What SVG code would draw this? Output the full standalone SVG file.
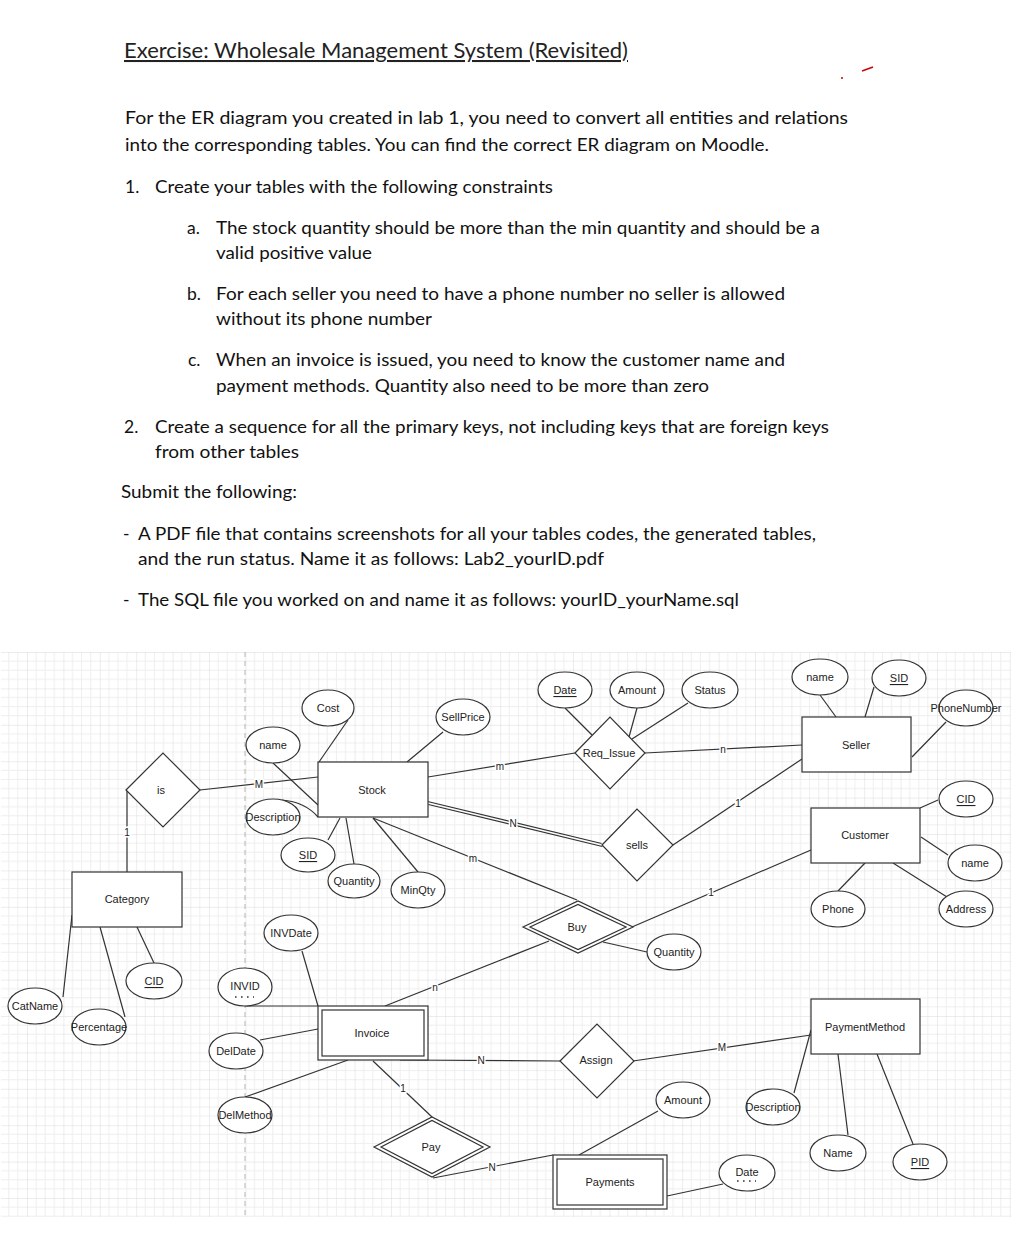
<svg xmlns="http://www.w3.org/2000/svg" width="1028" height="1248" viewBox="0 0 1028 1248">
<defs>
<pattern id="grid" patternUnits="userSpaceOnUse" x="27" y="652" width="36.4" height="36.4">
<path d="M9.1 0V36.4M18.2 0V36.4M27.3 0V36.4M0 9.1H36.4M0 18.2H36.4M0 27.3H36.4" stroke="#eeeeee" stroke-width="1" fill="none"/>
<path d="M0 0V36.4M0 0H36.4" stroke="#dadada" stroke-width="1" fill="none"/>
</pattern>
<style>
.doc{font-family:Lato,"Liberation Sans",sans-serif;font-size:17.5px;fill:#111}
.ttl{font-family:Lato,"Liberation Sans",sans-serif;font-size:20.5px;fill:#222;text-decoration:underline}
.lb{font-family:"Liberation Sans",Arial,sans-serif;font-size:11px;fill:#222;text-anchor:middle;dominant-baseline:central}
.u{text-decoration:underline}
.sh{fill:#fff;stroke:#333;stroke-width:1.2}
.ln{stroke:#333;stroke-width:1.2;fill:none}
.el{font-family:"Liberation Sans",Arial,sans-serif;font-size:10px;fill:#222;text-anchor:middle;dominant-baseline:central;stroke:#fff;stroke-width:3;paint-order:stroke}
.dots{stroke:#333;stroke-width:1.6;stroke-dasharray:1.6 4.4}
</style>
</defs>
<rect width="1028" height="1248" fill="#fff"/>
<g id="document-text">
<text class="ttl" x="124" y="58" textLength="504" lengthAdjust="spacingAndGlyphs">Exercise: Wholesale Management System (Revisited)</text>
<text class="doc" x="125" y="124" textLength="723" lengthAdjust="spacingAndGlyphs">For the ER diagram you created in lab 1, you need to convert all entities and relations</text>
<text class="doc" x="125" y="151" textLength="644" lengthAdjust="spacingAndGlyphs">into the corresponding tables. You can find the correct ER diagram on Moodle.</text>
<text class="doc" x="125" y="193">1.</text>
<text class="doc" x="155" y="193" textLength="398" lengthAdjust="spacingAndGlyphs">Create your tables with the following constraints</text>
<text class="doc" x="187" y="234">a.</text>
<text class="doc" x="216" y="234" textLength="604" lengthAdjust="spacingAndGlyphs">The stock quantity should be more than the min quantity and should be a</text>
<text class="doc" x="216" y="259" textLength="156" lengthAdjust="spacingAndGlyphs">valid positive value</text>
<text class="doc" x="187" y="300">b.</text>
<text class="doc" x="216" y="300" textLength="569" lengthAdjust="spacingAndGlyphs">For each seller you need to have a phone number no seller is allowed</text>
<text class="doc" x="216" y="325" textLength="216" lengthAdjust="spacingAndGlyphs">without its phone number</text>
<text class="doc" x="188" y="366">c.</text>
<text class="doc" x="216" y="366" textLength="569" lengthAdjust="spacingAndGlyphs">When an invoice is issued, you need to know the customer name and</text>
<text class="doc" x="216" y="392" textLength="493" lengthAdjust="spacingAndGlyphs">payment methods. Quantity also need to be more than zero</text>
<text class="doc" x="124" y="433">2.</text>
<text class="doc" x="155" y="433" textLength="674" lengthAdjust="spacingAndGlyphs">Create a sequence for all the primary keys, not including keys that are foreign keys</text>
<text class="doc" x="155" y="458" textLength="144" lengthAdjust="spacingAndGlyphs">from other tables</text>
<text class="doc" x="121" y="498" textLength="176" lengthAdjust="spacingAndGlyphs">Submit the following:</text>
<text class="doc" x="123" y="540">-</text>
<text class="doc" x="138" y="540" textLength="678" lengthAdjust="spacingAndGlyphs">A PDF file that contains screenshots for all your tables codes, the generated tables,</text>
<text class="doc" x="138" y="565" textLength="466" lengthAdjust="spacingAndGlyphs">and the run status. Name it as follows: Lab2_yourID.pdf</text>
<text class="doc" x="123" y="606">-</text>
<text class="doc" x="138" y="606" textLength="601" lengthAdjust="spacingAndGlyphs">The SQL file you worked on and name it as follows: yourID_yourName.sql</text>
<circle cx="842" cy="78" r="1" fill="#c00"/>
<path d="M862 71L873 67" stroke="#c00" stroke-width="1.6"/>
</g>
<g id="canvas">
<rect x="1" y="652" width="1010" height="565" fill="url(#grid)"/>
<line x1="245" y1="652" x2="245" y2="1217" stroke="#b5b5b5" stroke-width="1" stroke-dasharray="5 4"/>
</g>
<g id="connectors">
<line class="ln" x1="200" y1="790" x2="318" y2="777"/>
<line class="ln" x1="127" y1="790" x2="127" y2="872"/>
<line class="ln" x1="428" y1="777" x2="575" y2="753"/>
<line class="ln" x1="645" y1="753" x2="802" y2="745"/>
<line class="ln" x1="427.6" y1="801.5" x2="601.6" y2="843.5"/>
<line class="ln" x1="428.4" y1="804.5" x2="602.4" y2="846.5"/>
<line class="ln" x1="673" y1="845" x2="802" y2="759"/>
<line class="ln" x1="373" y1="818" x2="577" y2="900"/>
<line class="ln" x1="632" y1="927" x2="811" y2="850"/>
<line class="ln" x1="549" y1="941" x2="385" y2="1006" stroke-width="2.2"/>
<line class="ln" x1="400" y1="1060" x2="560" y2="1061"/>
<line class="ln" x1="633" y1="1061" x2="811" y2="1035"/>
<line class="ln" x1="373" y1="1061" x2="432" y2="1117"/>
<line class="ln" x1="433" y1="1178" x2="553" y2="1155"/>
<line class="ln" x1="348" y1="720" x2="319" y2="762"/>
<line class="ln" x1="273" y1="763" x2="318" y2="805"/>
<path class="ln" d="M282 800Q305 802 318 817"/>
<line class="ln" x1="328" y1="840" x2="340" y2="818"/>
<line class="ln" x1="354" y1="864" x2="346" y2="818"/>
<line class="ln" x1="418" y1="872" x2="373" y2="818"/>
<line class="ln" x1="443" y1="732" x2="407" y2="762"/>
<line class="ln" x1="565" y1="708" x2="592" y2="735"/>
<line class="ln" x1="637" y1="708" x2="629" y2="737"/>
<line class="ln" x1="688" y1="703" x2="632" y2="739"/>
<line class="ln" x1="820" y1="695" x2="836" y2="717"/>
<line class="ln" x1="874" y1="687" x2="865" y2="717"/>
<line class="ln" x1="946" y1="722" x2="912" y2="757"/>
<line class="ln" x1="938" y1="800" x2="920" y2="808"/>
<line class="ln" x1="948" y1="855" x2="921" y2="837"/>
<line class="ln" x1="838" y1="891" x2="865" y2="863"/>
<line class="ln" x1="947" y1="897" x2="893" y2="863"/>
<line class="ln" x1="603" y1="942" x2="647" y2="952"/>
<line class="ln" x1="72" y1="915" x2="63" y2="997"/>
<line class="ln" x1="100" y1="927" x2="125" y2="1017"/>
<line class="ln" x1="137" y1="927" x2="154" y2="963"/>
<line class="ln" x1="302" y1="951" x2="318" y2="1006"/>
<line class="ln" x1="245" y1="1006" x2="318" y2="1006"/>
<line class="ln" x1="260" y1="1040" x2="318" y2="1029"/>
<line class="ln" x1="245" y1="1097" x2="348" y2="1060"/>
<line class="ln" x1="658" y1="1111" x2="579" y2="1155"/>
<line class="ln" x1="723" y1="1184" x2="667" y2="1196"/>
<line class="ln" x1="794" y1="1093" x2="811" y2="1030"/>
<line class="ln" x1="848" y1="1135" x2="838" y2="1054"/>
<line class="ln" x1="913" y1="1144" x2="877" y2="1054"/>
<text class="el" x="259" y="784">M</text>
<text class="el" x="127" y="832">1</text>
<text class="el" x="500" y="766">m</text>
<text class="el" x="723" y="749">n</text>
<text class="el" x="513" y="823">N</text>
<text class="el" x="738" y="803">1</text>
<text class="el" x="473" y="858">m</text>
<text class="el" x="711" y="892">1</text>
<text class="el" x="435" y="987">n</text>
<text class="el" x="481" y="1060">N</text>
<text class="el" x="722" y="1047">M</text>
<text class="el" x="403" y="1088">1</text>
<text class="el" x="492" y="1167">N</text>
</g>
<g id="node-category"><rect class="sh" x="72" y="872" width="110" height="55"/><text class="lb" x="127" y="899">Category</text></g>
<g id="node-stock"><rect class="sh" x="318" y="762" width="110" height="55"/><text class="lb" x="372" y="790">Stock</text></g>
<g id="node-seller"><rect class="sh" x="802" y="717" width="109" height="55"/><text class="lb" x="856" y="745">Seller</text></g>
<g id="node-customer"><rect class="sh" x="811" y="808" width="109" height="55"/><text class="lb" x="865" y="835">Customer</text></g>
<g id="node-invoice"><rect class="sh" x="318" y="1006" width="110" height="54"/><rect class="sh" x="322" y="1010" width="102" height="46"/><text class="lb" x="372" y="1033">Invoice</text></g>
<g id="node-paymentmethod"><rect class="sh" x="811" y="999" width="109" height="55"/><text class="lb" x="865" y="1027">PaymentMethod</text></g>
<g id="node-payments"><rect class="sh" x="553" y="1155" width="114" height="54"/><rect class="sh" x="557" y="1159" width="106" height="46"/><text class="lb" x="610" y="1182">Payments</text></g>
<g id="node-is"><polygon class="sh" points="126,790 163,753 200,790 163,827"/><text class="lb" x="161" y="790">is</text></g>
<g id="node-req-issue"><polygon class="sh" points="575,753 610,717 645,753 610,789"/><text class="lb" x="609" y="753">Req_Issue</text></g>
<g id="node-sells"><polygon class="sh" points="602,845 637,809 673,845 637,881"/><text class="lb" x="637" y="845">sells</text></g>
<g id="node-buy"><polygon class="sh" points="523,927 578,901 633,927 578,953"/><polygon class="sh" points="530,927 578,904.5 626,927 578,949.5"/><text class="lb" x="577" y="927">Buy</text></g>
<g id="node-assign"><polygon class="sh" points="560,1061 597,1024 634,1061 597,1098"/><text class="lb" x="596" y="1060">Assign</text></g>
<g id="node-pay"><polygon class="sh" points="374,1147 432,1117 490,1147 432,1177"/><polygon class="sh" points="381,1147 432,1120.5 483,1147 432,1173.5"/><text class="lb" x="431" y="1147">Pay</text></g>
<g id="attr-cost"><ellipse class="sh" cx="328" cy="708" rx="26" ry="18"/><text class="lb" x="328" y="708">Cost</text></g>
<g id="attr-stock-name"><ellipse class="sh" cx="273" cy="745" rx="27" ry="18"/><text class="lb" x="273" y="745">name</text></g>
<g id="attr-stock-description"><ellipse class="sh" cx="273" cy="817" rx="27" ry="18"/><text class="lb" x="273" y="817">Description</text></g>
<g id="attr-stock-sid"><ellipse class="sh" cx="308" cy="855" rx="27" ry="17"/><text class="lb u" x="308" y="855">SID</text></g>
<g id="attr-stock-quantity"><ellipse class="sh" cx="354" cy="881" rx="26" ry="17"/><text class="lb" x="354" y="881">Quantity</text></g>
<g id="attr-minqty"><ellipse class="sh" cx="418" cy="890" rx="27" ry="18"/><text class="lb" x="418" y="890">MinQty</text></g>
<g id="attr-sellprice"><ellipse class="sh" cx="463" cy="717" rx="27" ry="18"/><text class="lb" x="463" y="717">SellPrice</text></g>
<g id="attr-req-date"><ellipse class="sh" cx="565" cy="690" rx="27" ry="18"/><text class="lb u" x="565" y="690">Date</text></g>
<g id="attr-req-amount"><ellipse class="sh" cx="637" cy="690" rx="27" ry="18"/><text class="lb" x="637" y="690">Amount</text></g>
<g id="attr-status"><ellipse class="sh" cx="710" cy="690" rx="28" ry="18"/><text class="lb" x="710" y="690">Status</text></g>
<g id="attr-seller-name"><ellipse class="sh" cx="820" cy="677" rx="28" ry="18"/><text class="lb" x="820" y="677">name</text></g>
<g id="attr-seller-sid"><ellipse class="sh" cx="899" cy="678" rx="27" ry="18"/><text class="lb u" x="899" y="678">SID</text></g>
<g id="attr-phonenumber"><ellipse class="sh" cx="966" cy="708" rx="27" ry="18"/><text class="lb" x="966" y="708">PhoneNumber</text></g>
<g id="attr-customer-cid"><ellipse class="sh" cx="966" cy="799" rx="27" ry="18"/><text class="lb u" x="966" y="799">CID</text></g>
<g id="attr-customer-name"><ellipse class="sh" cx="975" cy="863" rx="27" ry="18"/><text class="lb" x="975" y="863">name</text></g>
<g id="attr-phone"><ellipse class="sh" cx="838" cy="909" rx="27" ry="18"/><text class="lb" x="838" y="909">Phone</text></g>
<g id="attr-address"><ellipse class="sh" cx="966" cy="909" rx="27" ry="18"/><text class="lb" x="966" y="909">Address</text></g>
<g id="attr-buy-quantity"><ellipse class="sh" cx="674" cy="952" rx="27" ry="18"/><text class="lb" x="674" y="952">Quantity</text></g>
<g id="attr-catname"><ellipse class="sh" cx="35" cy="1006" rx="27" ry="18"/><text class="lb" x="35" y="1006">CatName</text></g>
<g id="attr-percentage"><ellipse class="sh" cx="99" cy="1027" rx="27" ry="18"/><text class="lb" x="99" y="1027">Percentage</text></g>
<g id="attr-category-cid"><ellipse class="sh" cx="154" cy="981" rx="28" ry="18"/><text class="lb u" x="154" y="981">CID</text></g>
<g id="attr-invdate"><ellipse class="sh" cx="291" cy="933" rx="27" ry="18"/><text class="lb" x="291" y="933">INVDate</text></g>
<g id="attr-invid"><ellipse class="sh" cx="245" cy="987" rx="27" ry="19" stroke-width="2.2"/><text class="lb" x="245" y="986">INVID</text><line class="dots" x1="235" y1="997" x2="254" y2="997"/></g>
<g id="attr-deldate"><ellipse class="sh" cx="236" cy="1051" rx="27" ry="18"/><text class="lb" x="236" y="1051">DelDate</text></g>
<g id="attr-delmethod"><ellipse class="sh" cx="245" cy="1115" rx="27" ry="18"/><text class="lb" x="245" y="1115">DelMethod</text></g>
<g id="attr-payment-amount"><ellipse class="sh" cx="683" cy="1100" rx="27" ry="18"/><text class="lb" x="683" y="1100">Amount</text></g>
<g id="attr-payment-date"><ellipse class="sh" cx="747" cy="1173" rx="28" ry="18"/><text class="lb" x="747" y="1172">Date</text><line class="dots" x1="737" y1="1181" x2="756" y2="1181"/></g>
<g id="attr-pm-description"><ellipse class="sh" cx="773" cy="1107" rx="27" ry="18"/><text class="lb" x="773" y="1107">Description</text></g>
<g id="attr-pm-name"><ellipse class="sh" cx="838" cy="1153" rx="28" ry="18"/><text class="lb" x="838" y="1153">Name</text></g>
<g id="attr-pid"><ellipse class="sh" cx="920" cy="1162" rx="27" ry="18"/><text class="lb u" x="920" y="1162">PID</text></g>
</svg>
